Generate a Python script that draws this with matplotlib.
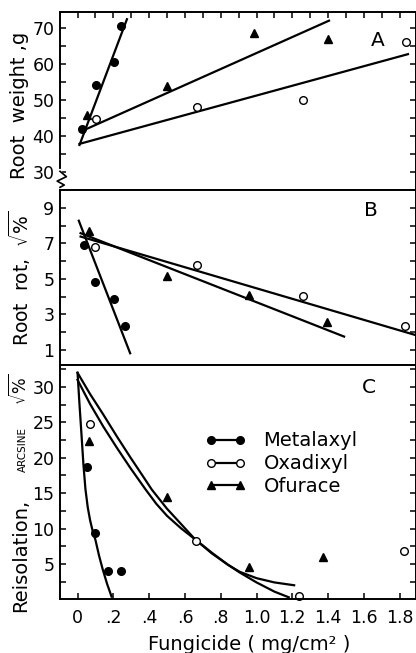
import matplotlib
matplotlib.use("Agg")
import matplotlib.pyplot as plt

plt.rcParams["font.family"] = ["DejaVu Sans"]
plt.rcParams["mathtext.fontset"] = "dejavusans"

# DATA

# A: root weight (g)
a_met_x = [0.026, 0.104, 0.202, 0.243]
a_met_y = [41.9, 54.1, 60.6, 70.4]
a_oxa_x = [0.104, 0.669, 1.257, 1.835]
a_oxa_y = [44.7, 48.0, 50.0, 66.0]
a_ofu_x = [0.054, 0.502, 0.983, 1.400]
a_ofu_y = [45.8, 53.9, 68.7, 66.9]
a_met_fit_x = [0.011, 0.276]
a_met_fit_y = [37.5, 72.4]
a_oxa_fit_x = [0.011, 1.846]
a_oxa_fit_y = [37.8, 62.7]
a_ofu_fit_x = [0.017, 1.405]
a_ofu_fit_y = [41.2, 72.0]

# B: root rot
b_met_x = [0.035, 0.100, 0.202, 0.263]
b_met_y = [6.92, 4.81, 3.86, 2.35]
b_oxa_x = [0.100, 0.669, 1.257, 1.828]
b_oxa_y = [6.79, 5.79, 4.04, 2.35]
b_ofu_x = [0.063, 0.498, 0.957, 1.396]
b_ofu_y = [7.67, 5.17, 4.10, 2.56]
b_met_fit_x = [0.007, 0.294]
b_met_fit_y = [8.27, 0.81]
b_oxa_fit_x = [0.017, 1.883]
b_oxa_fit_y = [7.38, 1.85]
b_ofu_fit_x = [0.017, 1.489]
b_ofu_fit_y = [7.57, 1.75]

# C: reisolation
c_met_x = [0.054, 0.100, 0.172, 0.244]
c_met_y = [18.7, 9.4, 4.0, 4.0]
c_oxa_x = [0.072, 0.661, 1.235, 1.822]
c_oxa_y = [24.8, 8.25, 0.53, 6.84]
c_ofu_x = [0.063, 0.500, 0.957, 1.374]
c_ofu_y = [22.4, 14.5, 4.55, 6.03]
c_met_fit_x = [0.0, 0.011, 0.022, 0.033, 0.044, 0.057, 0.07, 0.085,
               0.1, 0.12, 0.14, 0.165, 0.19]
c_met_fit_y = [32.0, 27.5, 23.3, 19.0, 15.6, 13.0, 11.2, 9.6,
               8.4, 6.2, 4.3, 2.2, 0.4]
c_fit1_x = [0.0, 0.07, 0.144, 0.22, 0.294, 0.36, 0.415, 0.5,
            0.58, 0.656, 0.75, 0.84, 0.906, 1.0, 1.1, 1.18]
c_fit1_y = [32.0, 29.0, 26.1, 23.0, 20.1, 17.6, 15.5, 12.8,
            10.6, 8.5, 6.5, 4.9, 3.8, 2.4, 1.1, 0.3]
c_fit2_x = [0.0, 0.07, 0.144, 0.22, 0.294, 0.378, 0.44, 0.5,
            0.58, 0.656, 0.75, 0.84, 0.906, 1.0, 1.1, 1.21]
c_fit2_y = [31.0, 27.6, 24.4, 21.4, 18.6, 15.6, 13.5, 11.8,
            10.0, 8.5, 6.6, 4.9, 3.9, 3.0, 2.4, 2.0]

x_ticks = [0, 0.2, 0.4, 0.6, 0.8, 1.0, 1.2, 1.4, 1.6, 1.8]
x_tick_labels = ["0", ".2", ".4", ".6", ".8", "1.0", "1.2", "1.4", "1.6", "1.8"]

# FIGURE LAYOUT (416 x 653 px)

W, H = 416, 653
fig = plt.figure(figsize=(W / 100, H / 100), dpi=100)

left = 60 / W
width = 355.5 / W
ax_a = fig.add_axes([left, 1 - 190 / H, width, 178 / H])
ax_b = fig.add_axes([left, 1 - 365 / H, width, 175 / H])
ax_c = fig.add_axes([left, 1 - 599 / H, width, 234 / H])

XLIM = (-0.098, 1.888)
LW = 1.6
MS = 5.5

for ax in (ax_a, ax_b, ax_c):
    ax.set_xlim(*XLIM)
    ax.set_xticks([i / 10 for i in range(19)])
    ax.tick_params(which="both", direction="in", length=4, width=1.1,
                   left=True, right=True, labelsize=12.5)
    for s in ax.spines.values():
        s.set_linewidth(1.4)
    ax.tick_params(axis="y", pad=4)


def draw_points(ax, mx, my, ox, oy, tx, ty):
    ax.plot(mx, my, "o", color="black", ms=MS, clip_on=False)
    ax.plot(ox, oy, "o", mfc="white", mec="black", mew=1.0, ms=MS, clip_on=False)
    ax.plot(tx, ty, "^", color="black", ms=MS + 0.5, clip_on=False)


# PANEL A
ax_a.plot(a_met_fit_x, a_met_fit_y, color="black", lw=LW)
ax_a.plot(a_oxa_fit_x, a_oxa_fit_y, color="black", lw=LW)
ax_a.plot(a_ofu_fit_x, a_ofu_fit_y, color="black", lw=LW)
draw_points(ax_a, a_met_x, a_met_y, a_oxa_x, a_oxa_y, a_ofu_x, a_ofu_y)
ax_a.set_ylim(25.0, 74.4)
ax_a.set_yticks([30, 40, 50, 60, 70])
ax_a.set_yticks([35, 45, 55, 65], minor=True)
ax_a.tick_params(axis="x", top=True, bottom=False, labelbottom=False)
ax_a.text(0.895, 0.84, "A", transform=ax_a.transAxes, fontsize=14.5,
          ha="center", va="center")

# axis break mark on the left spine of A
ax_a.plot([0, 0], [0.015, 0.105], color="white", lw=3,
          transform=ax_a.transAxes, clip_on=False, zorder=5)
ax_a.plot([0, 0.018, -0.008, 0.012, 0], [0.105, 0.075, 0.05, 0.028, 0.015],
          color="black", lw=1.2, transform=ax_a.transAxes, clip_on=False,
          zorder=6)

# PANEL B
ax_b.plot(b_met_fit_x, b_met_fit_y, color="black", lw=LW)
ax_b.plot(b_oxa_fit_x, b_oxa_fit_y, color="black", lw=LW)
ax_b.plot(b_ofu_fit_x, b_ofu_fit_y, color="black", lw=LW)
draw_points(ax_b, b_met_x, b_met_y, b_oxa_x, b_oxa_y, b_ofu_x, b_ofu_y)
ax_b.set_ylim(0.15, 10.0)
ax_b.set_yticks([1, 3, 5, 7, 9])
ax_b.set_yticks([2, 4, 6, 8], minor=True)
ax_b.tick_params(axis="x", top=False, bottom=False, labelbottom=False)
ax_b.text(0.875, 0.88, "B", transform=ax_b.transAxes, fontsize=14.5,
          ha="center", va="center")

# PANEL C
ax_c.plot(c_met_fit_x, c_met_fit_y, color="black", lw=LW)
ax_c.plot(c_fit1_x, c_fit1_y, color="black", lw=LW)
ax_c.plot(c_fit2_x, c_fit2_y, color="black", lw=LW)
draw_points(ax_c, c_met_x, c_met_y, c_oxa_x, c_oxa_y, c_ofu_x, c_ofu_y)
ax_c.set_ylim(0.06, 33.1)
ax_c.set_yticks([5, 10, 15, 20, 25, 30])
ax_c.set_yticks([2.5, 7.5, 12.5, 17.5, 22.5, 27.5, 32.5], minor=True)
ax_c.tick_params(axis="x", top=False, bottom=True, pad=7)
ax_c.set_xticks(x_ticks, labels=x_tick_labels)
ax_c.text(0.87, 0.905, "C", transform=ax_c.transAxes, fontsize=14.5,
          ha="center", va="center")

h_met, = ax_c.plot([], [], "-o", color="black", ms=MS, lw=LW)
h_oxa, = ax_c.plot([], [], "-o", color="black", mfc="white", mew=1.0, ms=MS, lw=LW)
h_ofu, = ax_c.plot([], [], "-^", color="black", ms=MS + 0.5, lw=LW)
ax_c.legend([h_met, h_oxa, h_ofu], ["Metalaxyl", "Oxadixyl", "Ofurace"],
            loc="upper left", bbox_to_anchor=(0.408, 0.716), frameon=False,
            numpoints=2, handlelength=2.1, handletextpad=0.9,
            labelspacing=0.2, borderpad=0, borderaxespad=0, fontsize=14)

# AXIS LABELS
fig.text(20 / W, 1 - 105 / H, "Root  weight ,g", rotation=90, fontsize=14,
         ha="center", va="center")
fig.text(20 / W, 1 - 278 / H, r"Root  rot,  $\sqrt{\%}$", rotation=90,
         fontsize=13.5, ha="center", va="center")
fig.text(26 / W, 1 - 612 / H, "Reisolation,", rotation=90, fontsize=14,
         rotation_mode="anchor", ha="left", va="baseline")
fig.text(26 / W, 1 - 472 / H, "ARCSINE", rotation=90, fontsize=7.5,
         rotation_mode="anchor", ha="left", va="baseline")
fig.text(27 / W, 1 - 405 / H, r"$\sqrt{\%}$", rotation=90, fontsize=12,
         rotation_mode="anchor", ha="left", va="baseline")
fig.text(249 / W, 1 - 645 / H, "Fungicide ( mg/cm² )", fontsize=14,
         ha="center", va="center")

fig.savefig("out.png", dpi=100)
